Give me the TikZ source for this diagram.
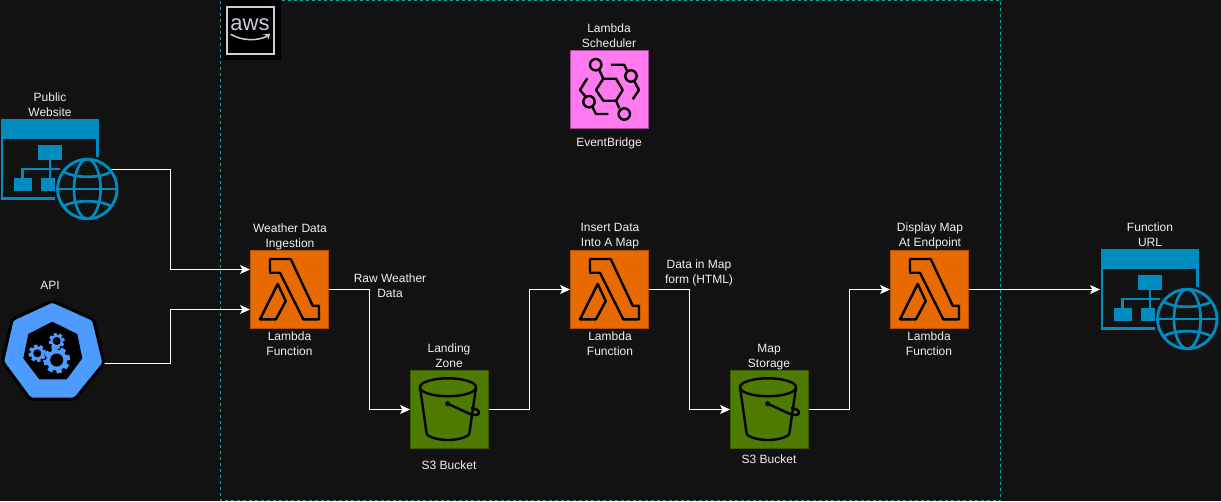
\documentclass[tikz,border=0pt]{standalone}
\usepackage{fontspec}
\setmainfont{Liberation Sans}
\usetikzlibrary{arrows.meta,calc}
\definecolor{bg}{HTML}{121212}
\definecolor{txt}{HTML}{F0F0F0}
\definecolor{teal}{HTML}{00A8A8}
\definecolor{webblue}{HTML}{008CBE}
\definecolor{apiblue}{HTML}{4D9BFF}
\definecolor{lamfill}{HTML}{E76A00}
\definecolor{lamline}{HTML}{B35000}
\definecolor{bucfill}{HTML}{4F7A00}
\definecolor{bucline}{HTML}{3A5C00}
\definecolor{evfill}{HTML}{FF7AEE}
\definecolor{evline}{HTML}{A04C96}
\definecolor{awsline}{HTML}{C8CDD8}
\newcommand{\gearicon}[4]{%
  \foreach \a in {0,45,...,315}{
    \fill[apiblue,shift={(#1,#2)},rotate=\a+12] (-#3*0.24,-#3*1.25) rectangle (#3*0.24,#3*1.25);
  }
  \fill[apiblue] (#1,#2) circle[radius=#3];
  \fill[black] (#1,#2) circle[radius=#4];
}
\tikzset{
  x=1pt,y=-1pt,
  lbl/.style={text=txt,font=\fontsize{12}{15}\selectfont,align=center,inner sep=0pt},
  lambdabox/.style={draw=lamline,fill=lamfill,line width=1pt,minimum size=78pt,inner sep=0pt,outer sep=0.5pt},
  bucketbox/.style={draw=bucline,fill=bucfill,line width=1pt,minimum size=78pt,inner sep=0pt,outer sep=0.5pt},
  evbox/.style={draw=evline,fill=evfill,line width=1pt,minimum size=78pt,inner sep=0pt,outer sep=0.5pt},
  webarea/.style={minimum width=110pt,minimum height=101pt,inner sep=0pt,outer sep=0pt},
  link/.style={draw=white,line width=1pt,-{Stealth[length=10pt,width=9pt,inset=2.5pt]}},
  lambdaicon/.pic={
    \draw[black,line width=2.4pt,line join=round]
      (20,9) -- (40.7,9) -- (62.7,55.7) -- (69,55.7) -- (69,69.3) -- (53.3,69.3) -- (30,22.7) -- (20,22.7) -- cycle;
    \draw[black,line width=2.4pt,line join=round]
      (27.7,34) -- (35.7,51) -- (26,69.3) -- (10,69.3) -- cycle;
  },
  bucketicon/.pic={
    \draw[black,line width=2.4pt] (38,17.3) ellipse[x radius=28,y radius=9];
    \draw[black,line width=2.4pt,line join=round]
      (10,17.3) -- (16.7,64) .. controls (20,68) and (30,70) .. (38,70) .. controls (46,70) and (56,68) .. (59.3,64) -- (66,17.3);
    \fill[black] (37.7,33.7) circle[radius=2.5];
    \draw[black,line width=2.4pt]
      (37.7,33.7) -- (60,44) .. controls (65,46) and (69,45) .. (69,42.5) .. controls (69,40) and (65,38.5) .. (61,38);
  },
  evicon/.pic={
    \draw[black,line width=2.4pt,line join=round]
      (26,40) -- (33.3,28.7) -- (46,28.7) -- (52.7,40) -- (46,50.7) -- (33.3,50.7) -- cycle;
    \draw[black,line width=2.4pt] (25.7,14.7) circle[radius=5.7] (61,26) circle[radius=5.7]
      (19,51.7) circle[radius=5.7] (54.3,64) circle[radius=5.7];
    \draw[black,line width=2.4pt,line join=round]
      (29.3,20) -- (33.3,28.7)  (46,50.7) -- (49.3,58.3)
      (41,14.7) -- (54,14.7) -- (57.3,21)
      (64,30.7) -- (69,40) -- (62.7,49.3)
      (17.3,28.3) -- (10,40) -- (15.7,46.7)
      (22.3,56.7) -- (26,64) -- (38.3,64);
  },
  webicon/.pic={
    \fill[webblue] (0.5,0) rectangle (99,19.7);
    \draw[webblue,line width=2.7pt] (97.7,19) -- (97.7,38.3);
    \draw[webblue,line width=2.7pt] (2,19) -- (2,79.3) -- (55,79.3);
    \fill[webblue] (38,25.7) rectangle (62.3,41.3);
    \fill[webblue] (14,59.3) rectangle (32,72.3);
    \fill[webblue] (41.3,59.3) rectangle (55,72.3);
    \draw[webblue,line width=2.7pt] (50,41) -- (50,59.5);
    \draw[webblue,line width=2.7pt] (22.7,59.5) -- (22.7,50) -- (60,50);
    \begin{scope}[shift={(87.3,70)}]
      \draw[webblue,line width=2.9pt] (0,0) circle[radius=29.7];
      \draw[webblue,line width=2.7pt] (0,0) ellipse[x radius=13.3,y radius=29.7];
      \draw[webblue,line width=2.7pt] (-29.7,0) -- (29.7,0);
      \draw[webblue,line width=2.7pt] (-24,-17.3) .. controls (-12,-10.5) and (12,-10.5) .. (24,-17.3);
      \draw[webblue,line width=2.7pt] (-24,17.3) .. controls (-12,10.5) and (12,10.5) .. (24,17.3);
    \end{scope}
  },
}
\begin{document}
\begin{tikzpicture}
\useasboundingbox (0,0) rectangle (1221,501);
\fill[bg] (0,0) rectangle (1221,501);
% AWS cloud group
\draw[teal,line width=1.1pt,dash pattern=on 3pt off 3pt] (220.5,0.5) rectangle (1000.5,500.5);
\fill[black] (221,0) rectangle (280.5,60);
\draw[awsline,line width=1.6pt] (226.7,6.7) rectangle (274,54);
\node[text=awsline,font=\fontsize{22}{22}\selectfont,inner sep=0pt] (awstxt) at (250,25) {aws};
\draw[awsline,line width=1.5pt] (230.7,34.3) .. controls (242,41) and (257,41) .. (266.7,36.5);
\fill[awsline] (263,34.6) -- (270,33.5) -- (268.5,39.5) -- (267,36) -- cycle;
% Icon nodes
\node[evbox] (ev) at (609.5,89.5) {};
\node[lambdabox] (l1) at (289.5,289.5) {};
\node[lambdabox] (l2) at (609.5,289.5) {};
\node[lambdabox] (l3) at (929.5,289.5) {};
\node[bucketbox] (b1) at (449.5,409.5) {};
\node[bucketbox] (b2) at (769.5,409.5) {};
\node[webarea] (web1) at (55,169.5) {};
\node[webarea] (web2) at (1155,299.5) {};
\coordinate (apiout) at (104,363.5);
% Connectors
\draw[link] (web1.east) -| ([xshift=-80pt,yshift=20pt]l1.west) -- ([yshift=20pt]l1.west);
\draw[link] (apiout) -| ([xshift=-80pt,yshift=-20pt]l1.west) -- ([yshift=-20pt]l1.west);
\draw[link] (l1.east) -| ([xshift=-40.5pt]b1.west) -- (b1.west);
\draw[link] (b1.east) -| ([xshift=-40.5pt]l2.west) -- (l2.west);
\draw[link] (l2.east) -| ([xshift=-40.5pt]b2.west) -- (b2.west);
\draw[link] (b2.east) -| ([xshift=-40.5pt]l3.west) -- (l3.west);
\draw[link] (l3.east) -- (l3.east -| web2.west);
% Icons
\pic at (250,250) {lambdaicon};
\pic at (570,250) {lambdaicon};
\pic at (890,250) {lambdaicon};
\pic at (410,370) {bucketicon};
\pic at (730,370) {bucketicon};
\pic at (570,50) {evicon};
\pic at (0,119) {webicon};
\pic at (1100,249) {webicon};
% API icon
\draw[black,line width=3pt,fill=apiblue,line join=round,rounded corners=2pt]
  (52.3,301) -- (93.5,319.5) -- (104,363.3) -- (75,399) -- (30,399) -- (2.5,361.7) -- (12.2,319.5) -- cycle;
\fill[black] (52.3,321.7) -- (77.3,334) -- (82.3,358.3) -- (66.7,379.3) -- (39.3,379.3) -- (23.3,358.3) -- (28.3,334) -- cycle;
\gearicon{37.3}{353.3}{6.8}{4}
\gearicon{56.7}{341}{6.2}{4}
\gearicon{56.7}{360}{10.5}{6.5}
% Labels
\node[lbl] (tpub) at (50,104.5) {Public\\Website};
\node[lbl] (tapi) at (50,285) {API};
\node[lbl] (tsch) at (609,35.5) {Lambda\\Scheduler};
\node[lbl] (tevb) at (609,143) {EventBridge};
\node[lbl] (tw) at (290,236.5) {Weather Data\\Ingestion};
\node[lbl] (tl1) at (289.5,343.5) {Lambda\\Function};
\node[lbl] (traw) at (390,285.5) {Raw Weather\\Data};
\node[lbl] (tlz) at (449,355.5) {Landing\\Zone};
\node[lbl] (ts1) at (449,465) {S3 Bucket};
\node[lbl] (tin) at (610,236.5) {Insert Data\\Into A Map};
\node[lbl] (tl2) at (610,343.5) {Lambda\\Function};
\node[lbl] (tdm) at (699,273) {Data in Map\\form (HTML)};
\node[lbl] (tms) at (769,357) {Map\\Storage};
\node[lbl] (ts2) at (769,459) {S3 Bucket};
\node[lbl] (tdi) at (930,236) {Display Map\\At Endpoint};
\node[lbl] (tl3) at (929,343.5) {Lambda\\Function};
\node[lbl] (tfu) at (1150,234.5) {Function\\URL};
\end{tikzpicture}
\end{document}
